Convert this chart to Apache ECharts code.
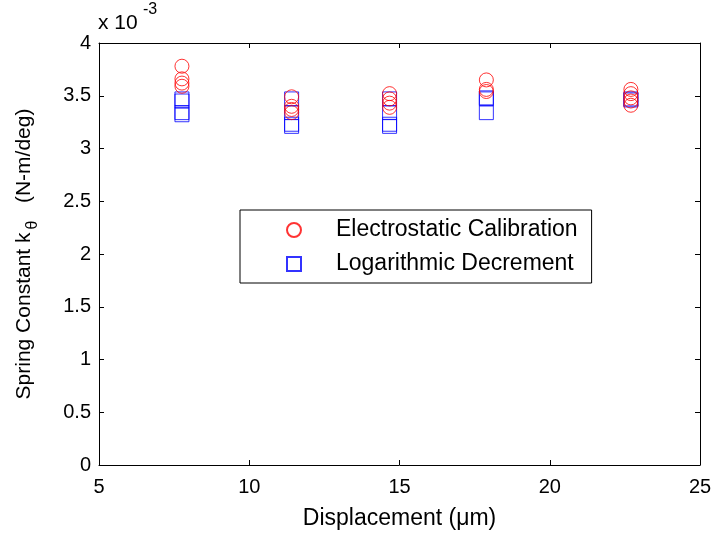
<!DOCTYPE html>
<html>
<head>
<meta charset="utf-8">
<script src="https://cdn.jsdelivr.net/npm/echarts@6/dist/echarts.min.js"></script>
<style>html,body{margin:0;padding:0;background:#fff;}#c{width:712px;height:535px;}</style>
</head>
<body>
<div id="c"></div>
<script>
// Data (values in units of 1e-3 N-m/deg)
var displacements = [7.76, 11.41, 14.67, 17.89, 22.7];
var electroValues = [
  [3.78, 3.66, 3.62, 3.59],
  [3.49, 3.40, 3.37, 3.34],
  [3.52, 3.47, 3.43, 3.39],
  [3.65, 3.56, 3.54],
  [3.56, 3.52, 3.48, 3.45, 3.41]
];
var logDecValues = [
  [3.47, 3.45, 3.34, 3.32],
  [3.47, 3.34, 3.23, 3.21],
  [3.47, 3.34, 3.23, 3.21],
  [3.48, 3.47, 3.34],
  [3.47, 3.46]
];
var xTicks = [5, 10, 15, 20, 25];
var yTicks = [0, 0.5, 1, 1.5, 2, 2.5, 3, 3.5, 4];

function pairs(groups) {
  var out = [];
  groups.forEach(function (g, i) {
    g.forEach(function (v) { out.push([displacements[i], v]); });
  });
  return out;
}

var FONT = 'Liberation Sans, Arial, sans-serif';
var chart = echarts.init(document.getElementById('c'));
var axisCommon = {
  axisLine: { show: true, onZero: false, lineStyle: { color: '#000', width: 1 } },
  axisTick: { show: true, inside: true, length: 5, lineStyle: { color: '#000' } },
  splitLine: { show: false }
};
chart.setOption({
  animation: false,
  backgroundColor: '#fff',
  grid: { left: 99, right: 12, top: 43, bottom: 70, outerBoundsMode: 'none', containLabel: false },
  xAxis: [
    Object.assign({
      type: 'value', min: 5, max: 25, interval: 5, position: 'bottom',
      name: 'Displacement (\u03bcm)', nameLocation: 'middle', nameGap: 42,
      nameTextStyle: { fontFamily: FONT, fontSize: 23, color: '#000' },
      axisLabel: { fontFamily: FONT, fontSize: 20, color: '#000', margin: 12,
        formatter: function (v) { return xTicks.indexOf(v) >= 0 ? String(v) : ''; } }
    }, axisCommon),
    Object.assign({
      type: 'value', min: 5, max: 25, interval: 5, position: 'top',
      axisLabel: { show: false }
    }, axisCommon)
  ],
  yAxis: [
    Object.assign({
      type: 'value', min: 0, max: 4, interval: 0.5, position: 'left',
      name: '{a|Spring Constant k}{s|\u03b8}{a|   (N-m/deg)}', nameLocation: 'middle', nameGap: 60,
      nameTextStyle: { fontFamily: FONT, fontSize: 21, color: '#000',
        rich: {
          a: { fontFamily: FONT, fontSize: 21, color: '#000', lineHeight: 30, verticalAlign: 'middle' },
          s: { fontFamily: FONT, fontSize: 16, color: '#000', lineHeight: 30, padding: [18, 0, 0, 3], verticalAlign: 'middle' }
        } },
      axisLabel: { fontFamily: FONT, fontSize: 20, color: '#000', margin: 8,
        formatter: function (v) { return yTicks.indexOf(v) >= 0 ? String(v) : ''; } }
    }, axisCommon),
    Object.assign({
      type: 'value', min: 0, max: 4, interval: 0.5, position: 'right',
      axisLabel: { show: false }
    }, axisCommon)
  ],
  legend: {
    orient: 'vertical', left: 240, top: 210,
    backgroundColor: '#fff', borderColor: '#000', borderWidth: 1,
    padding: [7, 14, 6, 46], itemGap: 8, itemWidth: 14, itemHeight: 14,
    textStyle: { fontFamily: FONT, fontSize: 23, color: '#000', lineHeight: 26, padding: [0, 0, 0, 30] },
    data: ['Electrostatic Calibration', 'Logarithmic Decrement']
  },
  graphic: [
    { type: 'text', left: 98, top: 13, style: { text: 'x 10', font: '21px ' + FONT, fill: '#000' } },
    { type: 'text', left: 143, top: 2, style: { text: '-3', font: '16px ' + FONT, fill: '#000' } }
  ],
  series: [
    {
      name: 'Electrostatic Calibration', type: 'scatter', symbol: 'circle', symbolSize: 14,
      itemStyle: { color: 'rgba(0,0,0,0)', borderColor: '#ff0000', borderWidth: 1 },
      data: pairs(electroValues), z: 3
    },
    {
      name: 'Logarithmic Decrement', type: 'scatter', symbol: 'rect', symbolSize: 14,
      itemStyle: { color: 'rgba(0,0,0,0)', borderColor: '#0000ff', borderWidth: 1 },
      data: pairs(logDecValues), z: 2
    }
  ]
});
</script>
</body>
</html>
